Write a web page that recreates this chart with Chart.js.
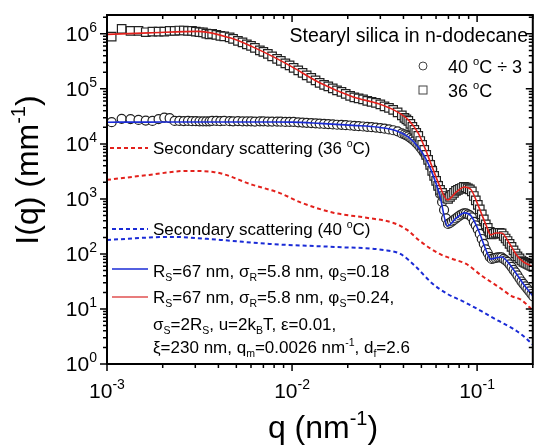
<!DOCTYPE html>
<html>
<head>
<meta charset="utf-8">
<script src="https://cdn.jsdelivr.net/npm/chart.js@4.4.0/dist/chart.umd.min.js"></script>
<style>body{margin:0;background:#fff}canvas{display:block}</style>
</head>
<body>
<canvas id="chart" width="540" height="445"></canvas>
<script>
// measured points, q in nm^-1, I in mm^-1 (40 C already divided by 3)
var qData = [0.00106,0.00120,0.00134,0.00148,0.00162,0.00176,0.00190,0.00204,0.00218,0.00232,0.00246,0.00260,0.00274,0.00288,0.00302,0.00316,0.00330,0.00344,0.00358,
  0.0037,0.0039,0.0041,0.0043,0.0046,0.0048,0.0051,0.0054,0.0057,0.0060,0.0063,0.0067,0.0070,0.0074,0.0078,0.0083,0.0087,0.0092,0.0097,0.0102,0.0108,0.0114,0.0120,0.0127,0.0134,0.0141,0.0149,0.0157,0.0166,0.0175,0.0185,0.0195,0.0206,0.0217,0.0229,0.0242,0.0255,0.0269,0.0284,0.0300,0.0316,0.0334,0.0352,0.0372,0.0392,
  0.0405,0.0415,0.0425,0.0436,0.0447,0.0458,0.0469,0.0481,0.0493,0.0505,0.0518,0.0531,0.0544,0.0558,0.0572,0.0586,0.0601,0.0616,0.0631,0.0647,0.0663,0.0680,0.0697,0.0714,0.0732,0.0750,0.0769,0.0788,0.0808,0.0828,0.0849,0.0870,0.0892,0.0914,0.0937,0.0960,0.0984,0.1009,0.1034,0.1060,0.1087,0.1114,0.1142,0.1170,0.1200,0.1230,0.1260,0.1292,0.1324,0.1357,0.1391,0.1426,0.1461,0.1498,0.1535,0.1574,0.1613,0.1653,0.1695,0.1737,0.1780,0.1825,0.1871,0.1917,0.1965,0.2014];
var i36 = [8.93e5,1.23e6,1.13e6,1.13e6,1.07e6,1.10e6,1.10e6,1.10e6,1.13e6,1.13e6,1.15e6,1.15e6,1.13e6,1.13e6,1.10e6,1.07e6,1.06e6,1.01e6,9.8e5,
  1.00e6,9.59e5,9.19e5,9.00e5,8.64e5,8.11e5,7.46e5,7.01e5,6.44e5,6.05e5,5.57e5,5.01e5,4.71e5,4.33e5,3.90e5,3.51e5,3.23e5,2.91e5,2.68e5,2.41e5,2.17e5,1.95e5,1.76e5,1.58e5,1.43e5,1.29e5,1.18e5,1.11e5,1.02e5,9.39e4,8.82e4,8.11e4,7.46e4,7.01e4,6.72e4,6.44e4,6.05e4,5.80e4,5.57e4,5.23e4,4.81e4,4.51e4,4.15e4,3.74e4,3.30e4,
  2.97e4,2.79e4,2.62e4,2.31e4,2.04e4,1.80e4,1.58e4,1.40e4,1.13e4,9.59e3,7.78e3,6.31e3,5.12e3,4.15e3,3.23e3,2.62e3,2.13e3,1.72e3,1.46e3,1.29e3,1.13e3,1.04e3,1.00e3,1.09e3,1.18e3,1.29e3,1.40e3,1.46e3,1.52e3,1.58e3,1.65e3,1.62e3,1.55e3,1.49e3,1.37e3,1.13e3,939,778,644,523,424,344,297,251,226,231,241,241,241,236,212,191,172,152,134,116,102,90,83,76,71.5,68.6,65.8,63.1,60.5,58.0];
var i40 = [2.48e4,2.85e4,2.81e4,2.73e4,2.65e4,2.62e4,2.81e4,3.01e4,2.93e4,2.62e4,2.62e4,2.60e4,2.62e4,2.59e4,2.59e4,2.57e4,2.57e4,2.57e4,2.57e4,
  2.62e4,2.62e4,2.59e4,2.62e4,2.59e4,2.57e4,2.60e4,2.57e4,2.57e4,2.57e4,2.54e4,2.57e4,2.57e4,2.54e4,2.54e4,2.54e4,2.53e4,2.51e4,2.51e4,2.51e4,2.47e4,2.44e4,2.41e4,2.39e4,2.36e4,2.33e4,2.31e4,2.29e4,2.26e4,2.23e4,2.22e4,2.19e4,2.16e4,2.13e4,2.10e4,2.07e4,2.04e4,2.01e4,1.98e4,1.94e4,1.89e4,1.83e4,1.77e4,1.69e4,1.55e4,
  1.49e4,1.43e4,1.37e4,1.29e4,1.21e4,1.13e4,1.04e4,9.59e3,8.64e3,7.78e3,6.86e3,6.05e3,5.12e3,4.24e3,3.51e3,2.73e3,2.13e3,1.65e3,1.23e3,882,631,442,351,366,390,415,442,471,501,523,545,545,523,501,461,382,330,279,231,187,152,121,104,88.2,81.1,82.8,84.6,86.4,86.4,86.4,81.1,76.2,71.5,64.4,58.0,51.2,46.1,40.7,35.8,31.6,28.5,25.7,23.1,20.8,18.7,16.9];

// model fits
var qFit = [0.00100,0.00169,0.00313,0.00462,0.00612,0.00813,0.0100,0.0141,0.0214,0.0294,0.0362,0.0425,0.0480,0.0522,0.0569,0.0628,0.0692,0.0773,0.0853,0.0929,0.1026,0.1117,0.1186,0.1262,0.1358,0.1479,0.1633,0.1778,0.1963,0.2015];
var fit36 = [9.79e5,1.04e6,1.11e6,8.46e5,5.80e5,3.66e5,2.51e5,1.29e5,7.15e4,5.34e4,3.98e4,2.73e4,1.58e4,8.46e3,3.98e3,1.72e3,959,1.34e3,1.65e3,1.46e3,686,337,222,241,241,165,95.9,71.5,60.5,58];
var fit40 = [2.48e4,2.49e4,2.50e4,2.50e4,2.50e4,2.50e4,2.49e4,2.36e4,2.17e4,2.00e4,1.76e4,1.34e4,8.82e3,5.80e3,3.10e3,1.18e3,323,451,557,491,251,118,81.1,84.6,88.2,68.6,43.3,28.5,18.7,16.5];

// secondary scattering terms
var qSec36 = [0.00100,0.00169,0.00270,0.00375,0.00612,0.00853,0.0113,0.0169,0.0257,0.0353,0.0419,0.0491,0.0628,0.0736,0.0874,0.1063,0.1309,0.1535,0.1735,0.2010];
var sec36 = [2.22e3,2.73e3,3.23e3,3.10e3,1.80e3,1.29e3,846,557,451,366,273,172,100,81.1,65.8,39.8,25.1,17.2,14.6,9.2];
var qSec40 = [0.00100,0.00222,0.00409,0.00754,0.0169,0.0313,0.0385,0.0462,0.0569,0.0692,0.0853,0.1050,0.1309,0.1573,0.1778,0.2010];
var sec40 = [180,204,180,152,134,118,100,60.5,29.7,18.7,13.4,9.2,6.05,4.33,3.23,2.22];

var xExp = [-3,-2,-1];
var yExp = [0,1,2,3,4,5,6];

var FONT = '"Liberation Sans", Arial, sans-serif';
var RED = '#e3211c', BLUE = '#1a2bd6';

function pts(qs, vs){ return qs.map(function(q,i){ return {x:q, y:vs[i]}; }); }

// text with super/subscripts: parts = [[text, ''|'sup'|'sub'], ...]
function rich(ctx, parts, x, y, size, align, supSize, supRaise){
  supSize = supSize || size*0.62;
  supRaise = supRaise || size*0.42;
  var w = 0;
  parts.forEach(function(p){ ctx.font = (p[1] ? supSize : size)+'px '+FONT; w += ctx.measureText(p[0]).width; });
  var cx = align==='right' ? x-w : align==='center' ? x-w/2 : x;
  ctx.textAlign = 'left'; ctx.textBaseline = 'alphabetic';
  parts.forEach(function(p){
    ctx.font = (p[1] ? supSize : size)+'px '+FONT;
    var dy = p[1]==='sup' ? -supRaise : p[1]==='sub' ? size*0.22 : 0;
    ctx.fillText(p[0], cx, y+dy);
    cx += ctx.measureText(p[0]).width;
  });
}

function seg(ctx, x1, y1, x2, y2){ ctx.moveTo(x1,y1); ctx.lineTo(x2,y2); }

const decor = {
  id: 'decor',
  afterDraw(chart){
    const ctx = chart.ctx, a = chart.chartArea, xs = chart.scales.x, ys = chart.scales.y;
    ctx.save();
    ctx.strokeStyle = '#000'; ctx.fillStyle = '#000';
    // ticks: left/bottom outward, top/right inward
    ctx.lineWidth = 1.5;
    ctx.beginPath();
    for (let e = -3; e <= -1; e++) for (let m = 1; m <= 9; m++){
      const v = m*Math.pow(10,e); if (v > xs.max*1.0001) break;
      const px = xs.getPixelForValue(v), len = m===1 ? 7 : 4;
      seg(ctx, px, a.bottom, px, a.bottom+len);
      seg(ctx, px, a.top, px, a.top+len);
    }
    for (let e = 0; e <= 6; e++) for (let m = 1; m <= 9; m++){
      const v = m*Math.pow(10,e); if (v > ys.max*1.0001) break;
      const py = ys.getPixelForValue(v), len = m===1 ? 7 : 4;
      seg(ctx, a.left-len, py, a.left, py);
      seg(ctx, a.right-len, py, a.right, py);
    }
    ctx.stroke();
    ctx.lineWidth = 2;
    ctx.strokeRect(a.left, a.top, a.right-a.left, a.bottom-a.top);

    // tick labels
    xExp.forEach(function(e){
      rich(ctx, [['10',''],[String(e),'sup']], xs.getPixelForValue(Math.pow(10,e)), 398, 21, 'center', 14, 9);
    });
    yExp.forEach(function(e){
      rich(ctx, [['10',''],[String(e),'sup']], 97, ys.getPixelForValue(Math.pow(10,e))+7, 21, 'right', 14, 9);
    });

    // axis titles
    rich(ctx, [['q (nm',''],['-1','sup'],[')','']], 323, 438, 32, 'center', 20, 13);
    ctx.save();
    ctx.translate(30, 170); ctx.rotate(-Math.PI/2);
    rich(ctx, [['I(q) (mm',''],['-1','sup'],[')','']], 0, 8, 32, 'center', 20, 13);
    ctx.restore();

    // title and symbol legend
    rich(ctx, [['Stearyl silica in n-dodecane','']], 528, 42, 19.5, 'right');
    ctx.lineWidth = 1; ctx.strokeStyle = '#444';
    ctx.beginPath(); ctx.arc(423, 66, 4, 0, Math.PI*2); ctx.stroke();
    ctx.strokeRect(419, 86, 8, 8);
    rich(ctx, [['40 ',''],['o','sup'],['C ÷ 3','']], 448, 73, 18);
    rich(ctx, [['36 ',''],['o','sup'],['C','']], 448, 97, 18);

    // line legend and model parameters
    ctx.lineWidth = 2;
    ctx.setLineDash([4,3]);
    ctx.strokeStyle = RED; ctx.beginPath(); seg(ctx, 110, 148, 148, 148); ctx.stroke();
    ctx.strokeStyle = BLUE; ctx.beginPath(); seg(ctx, 112, 229, 148, 229); ctx.stroke();
    ctx.setLineDash([]);
    ctx.lineWidth = 1.5;
    ctx.strokeStyle = BLUE; ctx.beginPath(); seg(ctx, 112, 269, 148, 269); ctx.stroke();
    ctx.strokeStyle = '#e05050'; ctx.beginPath(); seg(ctx, 112, 297, 148, 297); ctx.stroke();
    ctx.fillStyle = '#000';
    rich(ctx, [['Secondary scattering (36 ',''],['o','sup'],['C)','']], 153, 154, 17);
    rich(ctx, [['Secondary scattering (40 ',''],['o','sup'],['C)','']], 153, 235, 17);
    rich(ctx, [['R',''],['S','sub'],['=67 nm, σ',''],['R','sub'],['=5.8 nm, φ',''],['S','sub'],['=0.18','']], 153, 277, 17);
    rich(ctx, [['R',''],['S','sub'],['=67 nm, σ',''],['R','sub'],['=5.8 nm, φ',''],['S','sub'],['=0.24,','']], 153, 303, 17);
    rich(ctx, [['σ',''],['S','sub'],['=2R',''],['S','sub'],[', u=2k',''],['B','sub'],['T, ε=0.01,','']], 153, 330, 17);
    rich(ctx, [['ξ=230 nm, q',''],['m','sub'],['=0.0026 nm',''],['-1','sup'],[', d',''],['f','sub'],['=2.6','']], 153, 353, 17);
    ctx.restore();
  }
};

new Chart('chart', {
  type: 'scatter',
  data: {
    datasets: [
      {label:'fit 40', data:pts(qFit,fit40), showLine:true, borderColor:BLUE, borderWidth:1.6, pointRadius:0, cubicInterpolationMode:'monotone', order:0},
      {label:'fit 36', data:pts(qFit,fit36), showLine:true, borderColor:RED, borderWidth:1.6, pointRadius:0, cubicInterpolationMode:'monotone', order:0},
      {label:'Secondary scattering (36 C)', data:pts(qSec36,sec36), showLine:true, borderColor:RED, borderWidth:2, borderDash:[4,3], pointRadius:0, cubicInterpolationMode:'monotone', order:1},
      {label:'Secondary scattering (40 C)', data:pts(qSec40,sec40), showLine:true, borderColor:BLUE, borderWidth:2, borderDash:[4,3], pointRadius:0, cubicInterpolationMode:'monotone', order:1},
      {label:'36 C', data:pts(qData,i36), showLine:false, pointStyle:'rect', pointRadius:6, pointBorderWidth:1.2, pointBorderColor:'#222', pointBackgroundColor:'#fff', order:2},
      {label:'40 C / 3', data:pts(qData,i40), showLine:false, pointStyle:'circle', pointRadius:4.5, pointBorderWidth:1.2, pointBorderColor:'#222', pointBackgroundColor:'#fff', order:3}
    ]
  },
  options: {
    responsive: false,
    animation: false,
    devicePixelRatio: 1,
    events: [],
    layout: {padding: {left:107, top:15, right:1, bottom:81}},
    plugins: {legend:{display:false}, tooltip:{enabled:false}},
    scales: {
      x: {type:'logarithmic', min:0.001, max:0.2, display:false},
      y: {type:'logarithmic', min:1, max:2.2e6, display:false}
    }
  },
  plugins: [decor]
});
</script>
</body>
</html>
